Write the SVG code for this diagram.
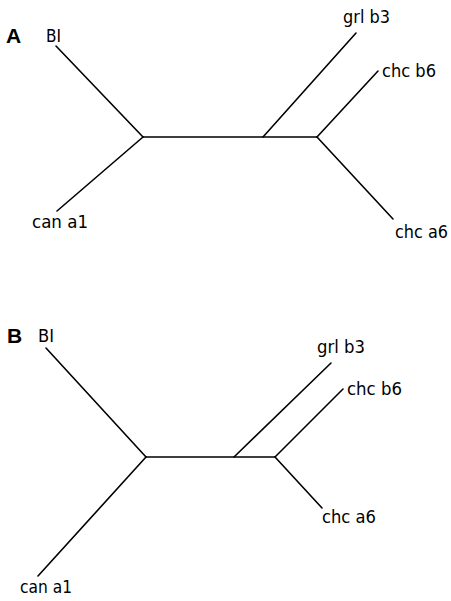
<svg xmlns="http://www.w3.org/2000/svg" width="451" height="601" viewBox="0 0 451 601">
<style>
.e{stroke:#000;stroke-width:1.6;fill:none;stroke-linecap:round}
.t{font-family:"DejaVu Sans Condensed","DejaVu Sans",sans-serif;font-size:17px;fill:#000}
.p{font-family:"Liberation Sans",Arial,sans-serif;font-size:21px;font-weight:bold;fill:#000}
</style>
<rect width="451" height="601" fill="#fff"/>
<g id="panelA">
<text class="p" x="6" y="43">A</text>
<g id="connectorsA">
<line class="e" x1="56" y1="46" x2="143" y2="137"/>
<line class="e" x1="143" y1="137" x2="57" y2="211"/>
<line class="e" x1="143" y1="137" x2="317" y2="137"/>
<line class="e" x1="263" y1="137" x2="356" y2="33"/>
<line class="e" x1="317" y1="137" x2="378" y2="71"/>
<line class="e" x1="317" y1="137" x2="393" y2="219"/>
</g>
<g id="A-BI"><text class="t" x="46" y="42" textLength="15" lengthAdjust="spacingAndGlyphs">BI</text></g>
<g id="A-can"><text class="t" x="32" y="228" textLength="56" lengthAdjust="spacingAndGlyphs">can a1</text></g>
<g id="A-grl"><text class="t" x="343" y="23" textLength="47" lengthAdjust="spacingAndGlyphs">grl b3</text></g>
<g id="A-chcb6"><text class="t" x="382" y="77" textLength="54" lengthAdjust="spacingAndGlyphs">chc b6</text></g>
<g id="A-chca6"><text class="t" x="395" y="238" textLength="53" lengthAdjust="spacingAndGlyphs">chc a6</text></g>
</g>
<g id="panelB">
<text class="p" x="7" y="343">B</text>
<g id="connectorsB">
<line class="e" x1="46" y1="348" x2="146" y2="457"/>
<line class="e" x1="146" y1="457" x2="38" y2="576"/>
<line class="e" x1="146" y1="457" x2="275" y2="457"/>
<line class="e" x1="234" y1="457" x2="331" y2="363"/>
<line class="e" x1="275" y1="457" x2="343" y2="389"/>
<line class="e" x1="275" y1="457" x2="322" y2="508"/>
</g>
<g id="B-BI"><text class="t" x="38" y="342" textLength="16" lengthAdjust="spacingAndGlyphs">BI</text></g>
<g id="B-can"><text class="t" x="20" y="593" textLength="52" lengthAdjust="spacingAndGlyphs">can a1</text></g>
<g id="B-grl"><text class="t" x="317" y="353" textLength="48" lengthAdjust="spacingAndGlyphs">grl b3</text></g>
<g id="B-chcb6"><text class="t" x="347" y="395" textLength="55" lengthAdjust="spacingAndGlyphs">chc b6</text></g>
<g id="B-chca6"><text class="t" x="322" y="523" textLength="54" lengthAdjust="spacingAndGlyphs">chc a6</text></g>
</g>
</svg>
